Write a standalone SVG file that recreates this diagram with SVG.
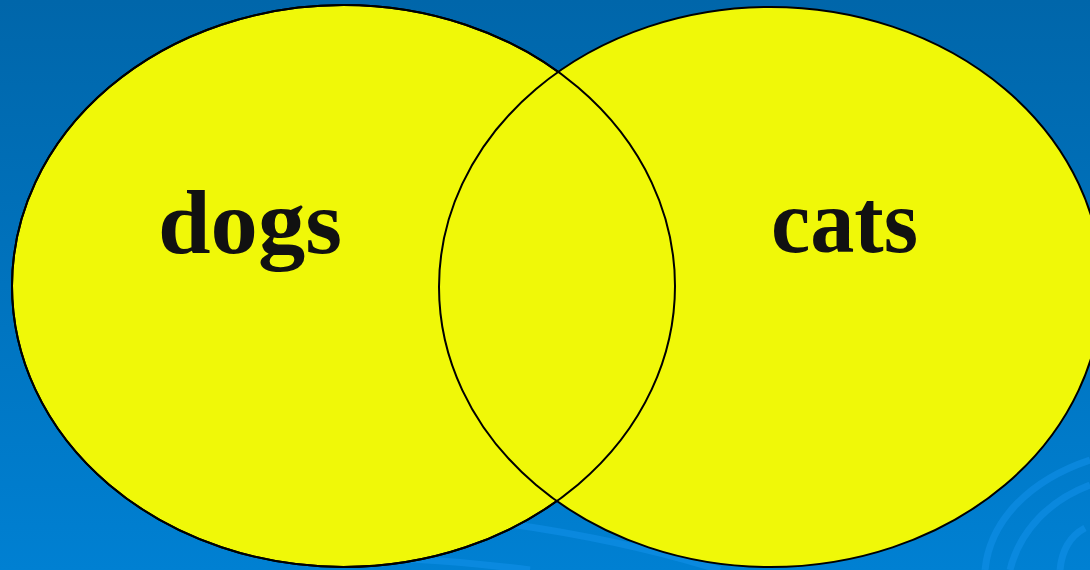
<svg xmlns="http://www.w3.org/2000/svg" width="1090" height="570" viewBox="0 0 1090 570">
<defs>
<linearGradient id="bg" x1="0" y1="0" x2="0" y2="1">
<stop offset="0" stop-color="#0066AA"/>
<stop offset="1" stop-color="#0080D2"/>
</linearGradient>
<style>
.set{fill:#F0F808;stroke:#000;stroke-width:2}
.lbl{font-family:"Liberation Serif","Times New Roman",serif;font-weight:bold;font-size:90px;fill:#111}
.swirl{fill:none;stroke:#1090E8;stroke-width:7;opacity:0.6}
</style>
</defs>
<rect width="1090" height="570" fill="url(#bg)"/>
<g id="swirls">
<path class="swirl" d="M985 570 C990 520 1030 480 1090 460"/>
<path class="swirl" d="M1010 570 C1020 530 1050 500 1090 485"/>
<path class="swirl" d="M1060 570 C1062 548 1072 535 1085 528"/>
<path class="swirl" d="M480 520 C560 530 640 545 720 570"/>
<path class="swirl" d="M300 560 C380 555 450 560 530 570"/>
</g>
<g id="dogs">
<ellipse class="set" cx="343.5" cy="286" rx="331.5" ry="281"/>
</g>
<g id="cats">
<ellipse class="set" cx="770.5" cy="287" rx="331.5" ry="280"/>
</g>
<g id="outlines">
<ellipse cx="343.5" cy="286" rx="331.5" ry="281" fill="none" stroke="#000" stroke-width="2"/>
</g>
<text class="lbl" x="158" y="253" textLength="184" lengthAdjust="spacingAndGlyphs">dogs</text>
<text class="lbl" x="771" y="252" textLength="147" lengthAdjust="spacingAndGlyphs">cats</text>
</svg>
